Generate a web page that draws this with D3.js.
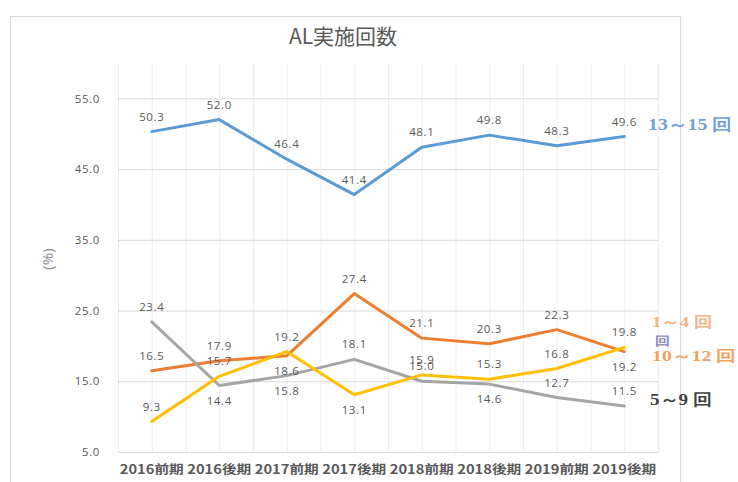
<!DOCTYPE html>
<html>
<head>
<meta charset="utf-8">
<script src="https://cdn.jsdelivr.net/npm/d3@7/dist/d3.min.js"></script>
<style>
  html, body { margin: 0; padding: 0; background: #ffffff; }
  svg { display: block; }
</style>
</head>
<body>
<svg id="chart" width="738" height="482"></svg>
<script>
// Survey periods (x axis)
const categories = ["2016前期", "2016後期", "2017前期", "2017後期", "2018前期", "2018後期", "2019前期", "2019後期"];

// Share of respondents (%) by number of AL sessions
const seriesNames = ["1～4回", "5～9回", "10～12回", "13～15回"];
const values1to4   = [16.5, 17.9, 18.6, 27.4, 21.1, 20.3, 22.3, 19.2];
const values5to9   = [23.4, 14.4, 15.8, 18.1, 15.0, 14.6, 12.7, 11.5];
const values10to12 = [9.3, 15.7, 19.2, 13.1, 15.9, 15.3, 16.8, 19.8];
const values13to15 = [50.3, 52.0, 46.4, 41.4, 48.1, 49.8, 48.3, 49.6];

// Y axis ticks
const yTicks = [5, 15, 25, 35, 45, 55];

// Where each data label sits relative to its point: a = above, b = below
const labelSide = {
  "1～4回":   ["a", "a", "b", "a", "a", "a", "a", "b"],
  "5～9回":   ["a", "b", "b", "a", "a", "b", "a", "a"],
  "10～12回": ["a", "a", "a", "b", "a", "a", "a", "a"],
  "13～15回": ["a", "a", "a", "a", "a", "a", "a", "a"]
};

const series = [
  { name: seriesNames[0], values: values1to4,   color: "#ed7d31" },
  { name: seriesNames[1], values: values5to9,   color: "#a5a5a5" },
  { name: seriesNames[2], values: values10to12, color: "#ffc000" },
  { name: seriesNames[3], values: values13to15, color: "#5b9bd5" }
];

const svg = d3.select("#chart");
const plot = { left: 118, right: 658, top: 63, bottom: 452 };

const x = d3.scaleBand().domain(categories).range([plot.left, plot.right]);
const cx = c => x(c) + x.bandwidth() / 2;
const y = d3.scaleLinear().domain([5, 60]).range([plot.bottom, plot.top]);

// Chart frame
svg.append("rect")
  .attr("x", 10.5).attr("y", 16.5)
  .attr("width", 670).attr("height", 480)
  .attr("fill", "#ffffff")
  .attr("stroke", "#d9d9d9");

// Title
svg.append("text")
  .attr("x", 343).attr("y", 44)
  .attr("text-anchor", "middle")
  .attr("font-family", "'Noto Sans CJK JP', 'Noto Sans', sans-serif")
  .attr("font-size", 21)
  .attr("fill", "#595959")
  .text("AL実施回数");

// Vertical gridlines at every half category
const halfSteps = d3.range(0, categories.length * 2 + 1).map(i => plot.left + i * x.bandwidth() / 2);
svg.append("g").selectAll("line")
  .data(halfSteps)
  .join("line")
  .attr("x1", d => d + 0.5).attr("x2", d => d + 0.5)
  .attr("y1", plot.top).attr("y2", plot.bottom)
  .attr("stroke", "#eeeeee")
  .attr("stroke-width", 1);

// Horizontal gridlines + y tick labels
const yAxis = d3.axisLeft(y)
  .tickValues(yTicks)
  .tickSize(-(plot.right - plot.left))
  .tickPadding(18)
  .tickFormat(d3.format(".1f"));

const gy = svg.append("g")
  .attr("transform", `translate(${plot.left},0)`)
  .call(yAxis);
gy.select(".domain").remove();
gy.selectAll(".tick line").attr("stroke", "#d9d9d9");
gy.selectAll(".tick text")
  .attr("font-family", "'Open Sans', 'DejaVu Sans', sans-serif")
  .attr("font-size", 11.5)
  .attr("letter-spacing", 0.6)
  .attr("fill", "#595959");

// Y axis title
svg.append("text")
  .attr("transform", "translate(53,259) rotate(-90)")
  .attr("text-anchor", "middle")
  .attr("font-family", "'Open Sans', 'DejaVu Sans', sans-serif")
  .attr("font-size", 15)
  .attr("fill", "#8c8c8c")
  .text("(%)");

// X axis labels
const xAxis = d3.axisBottom(x).tickSize(0).tickPadding(13);
const gx = svg.append("g")
  .attr("transform", `translate(0,${plot.bottom})`)
  .call(xAxis);
gx.select(".domain").remove();
gx.selectAll(".tick text")
  .attr("font-family", "'Noto Sans CJK JP', 'Noto Sans', sans-serif")
  .attr("font-size", 12.5)
  .attr("font-weight", "bold")
  .attr("fill", "#595959")
  .attr("textLength", 64)
  .attr("lengthAdjust", "spacingAndGlyphs");

// Lines
const line = d3.line()
  .x((d, i) => cx(categories[i]))
  .y(d => y(d));

svg.append("g").selectAll("path")
  .data(series)
  .join("path")
  .attr("d", s => line(s.values))
  .attr("fill", "none")
  .attr("stroke", s => s.color)
  .attr("stroke-width", 3)
  .attr("stroke-linejoin", "round")
  .attr("stroke-linecap", "round");

// Data labels
const labelG = svg.append("g")
  .attr("font-family", "'Open Sans', 'DejaVu Sans', sans-serif")
  .attr("font-size", 11.5)
  .attr("letter-spacing", 0.6)
  .attr("fill", "#595959")
  .attr("text-anchor", "middle");

series.forEach(s => {
  labelG.selectAll(null)
    .data(s.values)
    .join("text")
    .attr("x", (d, i) => cx(categories[i]))
    .attr("y", (d, i) => labelSide[s.name][i] === "a" ? y(d) - 11 : y(d) + 19)
    .text(d => d3.format(".1f")(d));
});

// Series name labels at the line ends
const endLabels = [
  { text: "13～15 回", color: "#6f9fd6", x: 648, y: 130, len: 84, size: 16 },
  { text: "1～4 回",   color: "#f4b183", x: 652, y: 327, len: 60, size: 15 },
  { text: "回",        color: "#8c88b0", x: 655, y: 345, len: 15, size: 12 },
  { text: "10～12 回", color: "#f0a35e", x: 652, y: 361, len: 84, size: 15 },
  { text: "5～9 回",   color: "#404040", x: 650, y: 405, len: 62, size: 16 }
];

svg.append("g").selectAll("text")
  .data(endLabels)
  .join("text")
  .attr("x", d => d.x)
  .attr("y", d => d.y)
  .attr("font-family", "'Liberation Serif', 'DejaVu Serif', serif")
  .attr("font-size", d => d.size)
  .attr("font-weight", 600)
  .attr("fill", d => d.color)
  .attr("textLength", d => d.len)
  .attr("lengthAdjust", "spacingAndGlyphs")
  .text(d => d.text);
</script>
</body>
</html>
